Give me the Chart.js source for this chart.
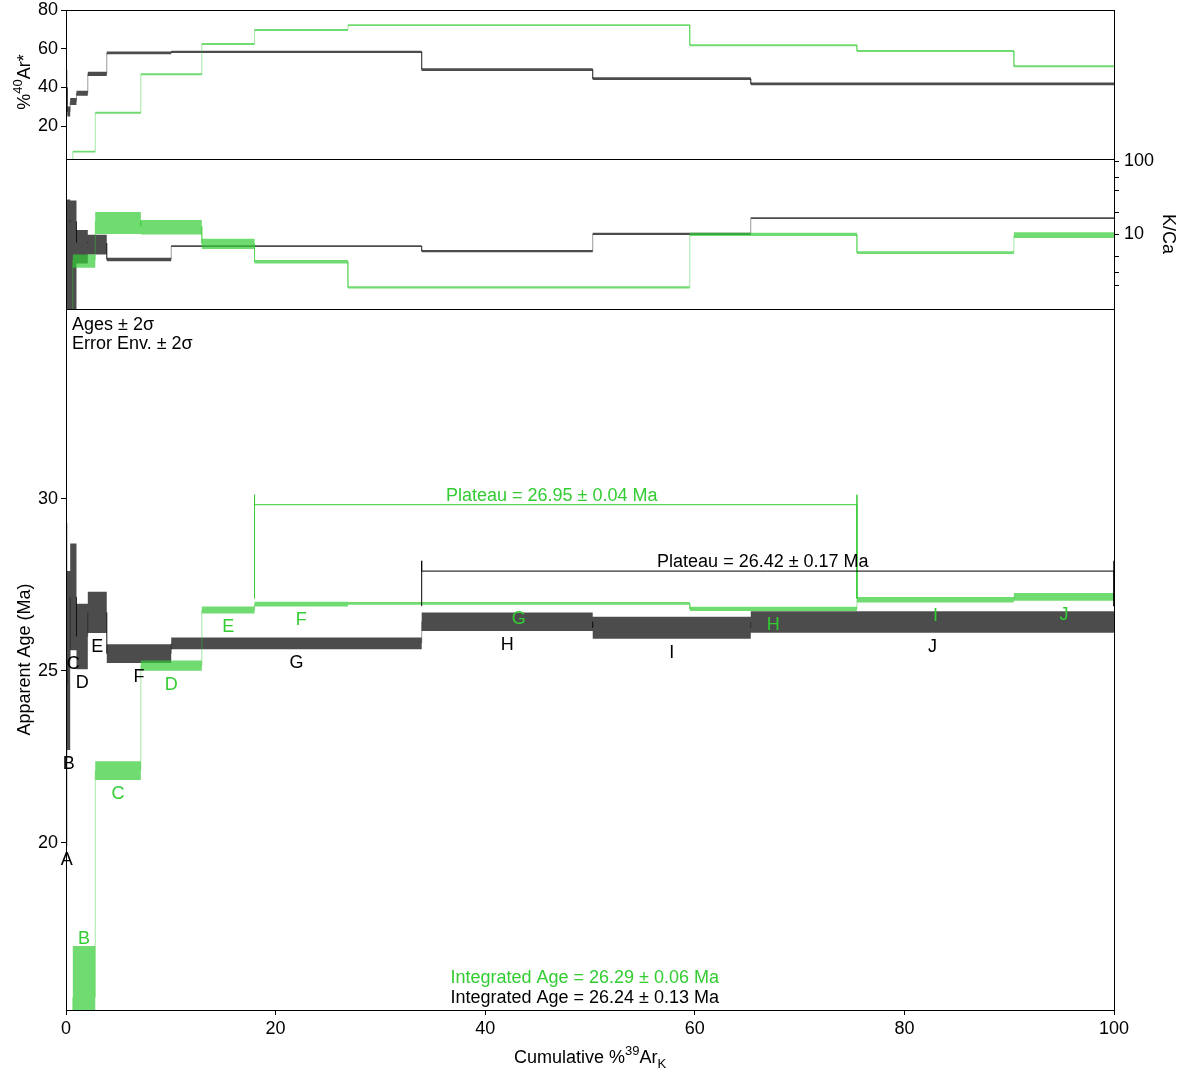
<!DOCTYPE html>
<html>
<head>
<meta charset="utf-8">
<title>Age spectrum</title>
<script src="https://cdn.jsdelivr.net/npm/chart.js@4.4.1/dist/chart.umd.min.js"></script>
<style>
    html, body { margin: 0; padding: 0; background: #fff; }
    #wrap { position: relative; width: 1186px; height: 1074px; }
    #wrap canvas { position: absolute; left: 0; top: 0; }
</style>
</head>
<body>
<div id="wrap">
    <canvas id="pctChart" width="1186" height="1074"></canvas>
    <canvas id="kcaChart" width="1186" height="1074"></canvas>
    <canvas id="ageChart" width="1186" height="1074"></canvas>
</div>
<script>
// --- data ---
const stepLabels = ['A', 'B', 'C', 'D', 'E', 'F', 'G', 'H', 'I', 'J'];

// black sample
const blackCum = [0, 0.12, 0.4, 1.0, 2.08, 3.89, 10.04, 33.94, 50.26, 65.34, 100];
const blackPct = [40, 27.5, 32.7, 37, 47, 57.8, 58.4, 49.2, 44.5, 41.8];
const blackPctErr = [9, 2.6, 1.8, 1.3, 1.1, 0.7, 0.6, 0.7, 0.7, 0.7];
const blackKCa = [15.3, 15.4, 15.0, 7.75, 7.6, 4.55, 6.9, 5.9, 10.2, 16.7];
const blackKCaErr = [14.6, 14.6, 14.2, 3.75, 2.3, 0.25, 0.2, 0.2, 0.35, 0.5];
const blackAge = [24.6, 25.3, 27.15, 26.0, 26.7, 25.5, 25.8, 26.43, 26.25, 26.42];
const blackAgeErr = [4.7, 2.6, 1.55, 0.95, 0.6, 0.27, 0.17, 0.27, 0.32, 0.31];

// green sample
const greenCum = [0, 0.65, 2.79, 7.14, 12.96, 17.99, 26.9, 59.52, 75.47, 90.45, 100];
const greenPct = [1, 6.8, 26.9, 46.8, 62.4, 69.7, 72.2, 61.8, 58.8, 50.9];
const greenPctErr = [0.5, 0.5, 0.5, 0.5, 0.5, 0.5, 0.5, 0.5, 0.5, 0.5];
const greenKCa = [0.5, 4.4, 15.2, 12.9, 7.5, 4.23, 1.88, 10.0, 5.65, 9.8];
const greenKCaErr = [0.1, 0.9, 5.1, 2.9, 1.2, 0.23, 0.07, 0.5, 0.25, 0.9];
const greenAge = [12.0, 15.5, 22.1, 25.15, 26.77, 26.94, 26.96, 26.8, 27.07, 27.15];
const greenAgeErr = [1.0, 1.5, 0.27, 0.15, 0.1, 0.07, 0.04, 0.06, 0.08, 0.11];

// plateaus: [from, to] in cumulative %, levels [leg foot, leg top, bar]
const greenPlateauX = [17.99, 75.47];
const greenPlateauY = [27.1, 30.12, 29.83];
const blackPlateauX = [33.94, 100];
const blackPlateauY = [26.88, 28.2, 27.9];
const plateauAge = [26.95, 26.42];   // green, black
const plateauErr = [0.04, 0.17];
const integratedAge = [26.29, 26.24];
const integratedErr = [0.06, 0.13];

// ticks
const xTicks = [0, 20, 40, 60, 80, 100];
const pctTicks = [20, 40, 60, 80];
const kcaTicks = [2, 3, 5, 10, 20, 40, 60, 100];
const kcaLabels = [10, 100];
const ageTicks = [20, 25, 30];

// --- styling ---
const FONT = '"Liberation Sans", Arial, Helvetica, sans-serif';
const BLACK_FILL = 'rgba(0,0,0,0.7)';
const BLACK_LINE = 'rgba(0,0,0,0.4)';
const GREEN = 'rgb(51,204,51)';
const GREEN_FILL = 'rgba(51,204,51,0.7)';
const GREEN_LINE = 'rgba(51,204,51,0.45)';

Chart.defaults.font.family = FONT;
Chart.defaults.font.size = 18;
Chart.defaults.color = '#000';

function stepPoints(cum, vals, errs, sign) {
    const pts = vals.map((v, i) => ({ x: cum[i], y: v + sign * errs[i] }));
    pts.push({ x: cum[cum.length - 1], y: pts[pts.length - 1].y });
    return pts;
}

// vertical joins between consecutive steps
function connectorPoints(cum, vals) {
    const pts = [];
    for (let i = 1; i < vals.length; i++) {
        pts.push({ x: cum[i], y: vals[i - 1] }, { x: cum[i], y: vals[i] }, { x: cum[i], y: null });
    }
    return pts;
}

function sampleDatasets(cum, vals, errs, fill, line, order) {
    return [
        { data: connectorPoints(cum, vals), borderColor: line, borderWidth: 1, pointRadius: 0, spanGaps: false, fill: false, order: order + 1 },
        { data: stepPoints(cum, vals, errs, 1), stepped: 'before', borderWidth: 0, borderColor: 'transparent', pointRadius: 0, fill: false, order: order },
        { data: stepPoints(cum, vals, errs, -1), stepped: 'before', borderWidth: 0, borderColor: 'transparent', pointRadius: 0, fill: '-1', backgroundColor: fill, order: order }
    ];
}

function bracketPoints(xr, lv) {
    return [
        { x: xr[0], y: lv[0] }, { x: xr[0], y: lv[1] }, { x: xr[0], y: lv[2] },
        { x: xr[1], y: lv[2] }, { x: xr[1], y: lv[1] }, { x: xr[1], y: lv[0] }
    ];
}

// text with super/subscripts, centred on (cx, baseline cy), optionally rotated
function drawRich(ctx, parts, cx, cy, angle, color) {
    ctx.save();
    ctx.translate(cx, cy);
    ctx.rotate(angle);
    ctx.fillStyle = color || '#000';
    ctx.textAlign = 'left';
    ctx.textBaseline = 'alphabetic';
    let total = 0;
    parts.forEach(p => {
        ctx.font = p[1] + 'px ' + FONT;
        p.w = ctx.measureText(p[0]).width;
        total += p.w;
    });
    let x = -total / 2;
    parts.forEach(p => {
        ctx.font = p[1] + 'px ' + FONT;
        ctx.fillText(p[0], x, p[2]);
        x += p.w;
    });
    ctx.restore();
}

function text(ctx, str, x, y, color, align) {
    ctx.save();
    ctx.font = '18px ' + FONT;
    ctx.fillStyle = color;
    ctx.textAlign = align || 'left';
    ctx.textBaseline = 'alphabetic';
    ctx.fillText(str, x, y);
    ctx.restore();
}

const framePlugin = {
    id: 'frame',
    afterDatasetsDraw(chart) {
        const { ctx, chartArea: a } = chart;
        ctx.save();
        ctx.strokeStyle = '#000';
        ctx.lineWidth = 1;
        ctx.strokeRect(Math.round(a.left) + 0.5, Math.round(a.top) + 0.5,
            Math.round(a.right - a.left), Math.round(a.bottom - a.top));
        ctx.restore();
    }
};

function stepLabelsFor(chart, cum, vals, errs, color) {
    const { ctx, chartArea: a } = chart;
    const xs = chart.scales.x, ys = chart.scales.y;
    ctx.save();
    ctx.font = '18px ' + FONT;
    ctx.fillStyle = color;
    ctx.textAlign = 'center';
    stepLabels.forEach((lab, i) => {
        const cx = xs.getPixelForValue((cum[i] + cum[i + 1]) / 2);
        const low = ys.getPixelForValue(vals[i] - errs[i]);
        const high = ys.getPixelForValue(vals[i] + errs[i]);
        if (high > a.bottom) return;
        if (low < a.bottom - 20) {
            ctx.textBaseline = 'top';
            ctx.fillText(lab, cx, low + 5);
        } else {
            ctx.textBaseline = 'alphabetic';
            ctx.fillText(lab, cx, high - 2);
        }
    });
    ctx.restore();
}

// fixed axis size, no extra room asked for overhanging labels
function fixSize(prop, size) {
    return s => {
        s[prop] = size;
        s.paddingTop = 0;
        s.paddingBottom = 0;
        s.paddingLeft = 0;
        s.paddingRight = 0;
    };
}

function tickAxis(extra) {
    return Object.assign({
        ticks: { color: '#000', font: { size: 18 }, autoSkip: false, maxRotation: 0, minRotation: 0 },
        grid: { drawOnChartArea: false, drawTicks: true, tickLength: 5, color: '#000' },
        border: { display: false }
    }, extra);
}

const baseOptions = {
    responsive: false,
    animation: false,
    devicePixelRatio: 1,
    plugins: { legend: { display: false }, tooltip: { enabled: false } }
};

// --- top panel: %40Ar* ---
new Chart(document.getElementById('pctChart'), {
    type: 'line',
    data: {
        datasets: [
            ...sampleDatasets(blackCum, blackPct, blackPctErr, BLACK_FILL, BLACK_LINE, 5),
            ...sampleDatasets(greenCum, greenPct, greenPctErr, GREEN_FILL, GREEN_LINE, 2)
        ]
    },
    options: {
        ...baseOptions,
        layout: { padding: { top: 10, bottom: 915, left: 0, right: 72 } },
        scales: {
            x: { type: 'linear', min: 0, max: 100, display: false },
            y: tickAxis({
                type: 'linear', min: 3, max: 80,
                afterFit: fixSize('width', 66),
                afterBuildTicks: s => { s.ticks = pctTicks.map(v => ({ value: v })); }
            })
        }
    },
    plugins: [framePlugin, {
        id: 'pctTitle',
        afterDraw(chart) {
            drawRich(chart.ctx, [['%', 18, 0], ['40', 13, -8], ['Ar*', 18, 0]], 30, 82, -Math.PI / 2);
        }
    }]
});

// --- middle panel: K/Ca ---
new Chart(document.getElementById('kcaChart'), {
    type: 'line',
    data: {
        datasets: [
            ...sampleDatasets(blackCum, blackKCa, blackKCaErr, BLACK_FILL, BLACK_LINE, 5),
            ...sampleDatasets(greenCum, greenKCa, greenKCaErr, GREEN_FILL, GREEN_LINE, 2)
        ]
    },
    options: {
        ...baseOptions,
        layout: { padding: { top: 159, bottom: 765, left: 66, right: 0 } },
        scales: {
            x: { type: 'linear', min: 0, max: 100, display: false },
            y: tickAxis({
                type: 'logarithmic', position: 'right', min: 0.95, max: 108,
                afterFit: fixSize('width', 72),
                afterBuildTicks: s => { s.ticks = kcaTicks.map(v => ({ value: v })); },
                ticks: {
                    color: '#000', font: { size: 18 }, autoSkip: false, padding: 5,
                    callback: v => kcaLabels.includes(v) ? String(v) : ''
                }
            })
        }
    },
    plugins: [framePlugin, {
        id: 'kcaTitle',
        afterDraw(chart) {
            drawRich(chart.ctx, [['K/Ca', 18, 0]], 1163, 234, Math.PI / 2);
        }
    }]
});

// --- bottom panel: apparent age ---
new Chart(document.getElementById('ageChart'), {
    type: 'line',
    data: {
        datasets: [
            ...sampleDatasets(blackCum, blackAge, blackAgeErr, BLACK_FILL, BLACK_LINE, 5),
            ...sampleDatasets(greenCum, greenAge, greenAgeErr, GREEN_FILL, GREEN_LINE, 2),
            { data: bracketPoints(blackPlateauX, blackPlateauY), borderColor: '#000', borderWidth: 1, pointRadius: 0, fill: false, order: 0 },
            { data: bracketPoints(greenPlateauX, greenPlateauY), borderColor: GREEN, borderWidth: 1, pointRadius: 0, fill: false, order: 0 }
        ]
    },
    options: {
        ...baseOptions,
        layout: { padding: { top: 309, bottom: 0, left: 0, right: 72 } },
        scales: {
            x: tickAxis({
                type: 'linear', min: 0, max: 100,
                afterFit: fixSize('height', 64),
                afterBuildTicks: s => { s.ticks = xTicks.map(v => ({ value: v })); }
            }),
            y: tickAxis({
                type: 'linear', min: 15.14, max: 35.52,
                afterFit: fixSize('width', 66),
                afterBuildTicks: s => { s.ticks = ageTicks.map(v => ({ value: v })); }
            })
        }
    },
    plugins: [framePlugin, {
        id: 'ageText',
        afterDraw(chart) {
            const { ctx, chartArea: a } = chart;
            const xs = chart.scales.x, ys = chart.scales.y;

            stepLabelsFor(chart, blackCum, blackAge, blackAgeErr, '#000');
            stepLabelsFor(chart, greenCum, greenAge, greenAgeErr, GREEN);

            text(ctx, 'Ages \u00b1 2\u03c3', a.left + 6, a.top + 21, '#000');
            text(ctx, 'Error Env. \u00b1 2\u03c3', a.left + 6, a.top + 40, '#000');

            const fmt = (v, e) => v.toFixed(2) + ' \u00b1 ' + e.toFixed(2) + ' Ma';
            text(ctx, 'Plateau = ' + fmt(plateauAge[0], plateauErr[0]),
                xs.getPixelForValue((greenPlateauX[0] + greenPlateauX[1]) / 2) - 4,
                ys.getPixelForValue(greenPlateauY[2]) - 4, GREEN, 'center');
            text(ctx, 'Plateau = ' + fmt(plateauAge[1], plateauErr[1]),
                xs.getPixelForValue((blackPlateauX[0] + blackPlateauX[1]) / 2) - 5,
                ys.getPixelForValue(blackPlateauY[2]) - 4, '#000', 'center');

            const midX = xs.getPixelForValue(49.5);
            text(ctx, 'Integrated Age = ' + fmt(integratedAge[0], integratedErr[0]), midX, a.bottom - 27, GREEN, 'center');
            text(ctx, 'Integrated Age = ' + fmt(integratedAge[1], integratedErr[1]), midX, a.bottom - 7, '#000', 'center');

            drawRich(ctx, [['Apparent Age (Ma)', 18, 0]], 30, (a.top + a.bottom) / 2, -Math.PI / 2);
            drawRich(ctx, [['Cumulative %', 18, 0], ['39', 13, -8], ['Ar', 18, 0], ['K', 13, 5]],
                (a.left + a.right) / 2, 1063, 0);
        }
    }]
});
</script>
</body>
</html>
